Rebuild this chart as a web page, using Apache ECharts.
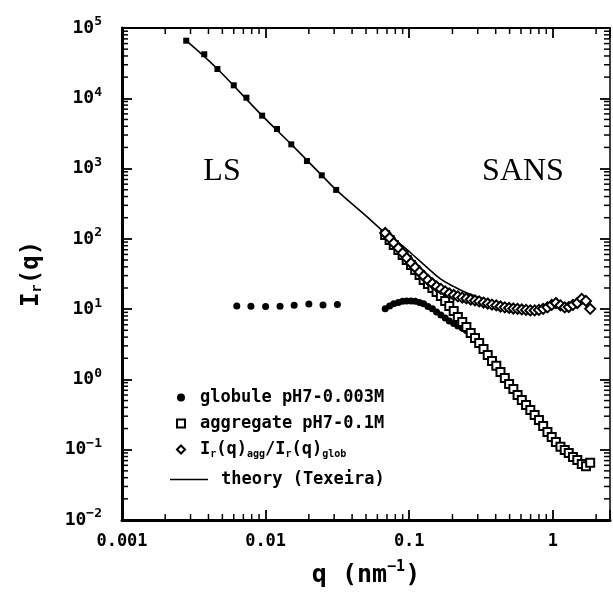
<!DOCTYPE html>
<html>
<head>
<meta charset="utf-8">
<script src="https://cdn.jsdelivr.net/npm/echarts@6/dist/echarts.min.js"></script>
<style>
  html, body { margin: 0; padding: 0; background: #fff; }
  #chart { width: 613px; height: 597px; }
</style>
</head>
<body>
<div id="chart"></div>
<script>
// axis range + tick labels
var xMin = 0.001, xMax = 2.5;
var yMin = 0.01, yMax = 100000;
var xTickExps = [-3, -2, -1, 0];
var xTickLabels = ['0.001', '0.01', '0.1', '1'];
var yTickExps = [-2, -1, 0, 1, 2, 3, 4, 5];
var yTickSup = ['\u22122', '\u22121', '0', '1', '2', '3', '4', '5'];

// light scattering, aggregate
var aggLsQ = [0.0028, 0.00374, 0.00462, 0.0060, 0.00735, 0.00946, 0.0120, 0.0151, 0.0194, 0.0246, 0.0310];
var aggLsI = [66000, 42300, 26100, 15300, 10200, 5660, 3660, 2210, 1280, 802, 497];

// light scattering, globule
var globLsQ = [0.0063, 0.0079, 0.0100, 0.0126, 0.0158, 0.0200, 0.0251, 0.0316];
var globLsI = [11.1, 11.0, 10.9, 11.0, 11.4, 11.8, 11.5, 11.6];

// SANS q grid
var sansQ = [0.068, 0.073, 0.078, 0.084, 0.090, 0.096, 0.103, 0.110, 0.118, 0.126,
  0.135, 0.145, 0.155, 0.166, 0.178, 0.190, 0.204, 0.218, 0.234, 0.250,
  0.268, 0.287, 0.307, 0.329, 0.352, 0.377, 0.404, 0.432, 0.463, 0.496,
  0.531, 0.568, 0.608, 0.651, 0.697, 0.747, 0.800, 0.856, 0.917, 0.982,
  1.05, 1.13, 1.21, 1.29, 1.38, 1.48, 1.59, 1.70, 1.82];

var aggSansI = [113.5, 96.4, 81.8, 69.5, 59.0, 50.1, 42.6, 36.1, 30.6, 26.0,
  22.8, 20.0, 17.6, 15.4, 13.1, 11.1, 9.43, 7.74, 6.57, 5.58,
  4.58, 3.89, 3.30, 2.72, 2.23, 1.83, 1.56, 1.28, 1.05, 0.863,
  0.733, 0.602, 0.511, 0.434, 0.368, 0.313, 0.265, 0.218, 0.179, 0.152,
  0.129, 0.110, 0.099, 0.090, 0.079, 0.0716, 0.0628, 0.058, 0.065];

var globSansI = [10.1, 11.1, 11.9, 12.4, 12.9, 13.1, 13.1, 12.9, 12.4, 11.9,
  10.9, 10.1, 9.12, 8.27, 7.50, 6.80, 6.26, 5.77, 5.41, 4.98,
  4.44, 3.77, 3.20, 2.63, 2.16, 1.77, 1.51, 1.24, 1.02, 0.836,
  0.709, 0.582, 0.494, 0.420, 0.356, 0.303, 0.257, 0.211, 0.173, 0.147,
  0.125, 0.110, 0.096, 0.087, 0.076, 0.069, 0.061, 0.059, 0.063];

var ratioI = [121, 103, 87.5, 74.3, 63.0, 53.5, 45.4, 39.2, 33.8, 29.6,
  26.0, 23.2, 21.0, 19.4, 17.9, 16.7, 15.9, 15.2, 14.6, 14.2,
  13.7, 13.3, 12.9, 12.4, 12.0, 11.6, 11.3, 10.9, 10.6, 10.4,
  10.2, 10.1, 9.9, 9.75, 9.6, 9.6, 9.75, 10.1, 10.6, 11.5,
  12.2, 11.3, 10.6, 10.7, 11.5, 12.2, 14.0, 13.1, 10.1];

// theory curve (Texeira)
var theoryQ = [0.0028, 0.00462, 0.00946, 0.0151, 0.0246, 0.031, 0.05, 0.068, 0.085, 0.103, 0.13, 0.165, 0.205, 0.26, 0.33, 0.45, 0.65, 1.0];
var theoryI = [66000, 26100, 5660, 2210, 802, 497, 212, 121, 87, 62.4, 41, 27, 20.9, 16.5, 14.0, 11.6, 10.2, 10.0];

var nameGlob = 'globule pH7-0.003M';
var nameAgg = 'aggregate pH7-0.1M';
var nameRatio = 'Ir(q)agg/Ir(q)glob';
var nameTheory = 'theory (Texeira)';

var mono = '"DejaVu Sans Mono", monospace';

function pairs(qs, is) {
  return qs.map(function (q, i) { return [q, is[i]]; });
}

// index of a decade tick, -1 if v is not a power of ten
function decadeIndex(v, exps) {
  var e = Math.log10(v);
  if (Math.abs(e - Math.round(e)) > 1e-6) return -1;
  return exps.indexOf(Math.round(e));
}

// minor tick values 2..9 per decade
function minorTicks(lo, hi) {
  var out = [];
  for (var e = Math.floor(Math.log10(lo)); e <= Math.ceil(Math.log10(hi)); e++) {
    for (var k = 2; k <= 9; k++) {
      var v = k * Math.pow(10, e);
      if (v > lo && v < hi) out.push(v);
    }
  }
  return out;
}

function tickSeries(id, values, dir) {
  return {
    id: id,
    name: id,
    type: 'custom',
    silent: true,
    clip: false,
    z: 6,
    encode: { x: 0, y: 1 },
    data: values.map(function (v) { return dir === 'x' ? [v, 1] : [1, v]; }),
    renderItem: function (params, api) {
      var st = { stroke: '#000', lineWidth: 1.5 };
      var ch = [];
      if (dir === 'x') {
        var v = api.value(0);
        var b = api.coord([v, yMin]), t = api.coord([v, yMax]);
        ch.push({ type: 'line', shape: { x1: b[0], y1: b[1], x2: b[0], y2: b[1] - 6 }, style: st });
        ch.push({ type: 'line', shape: { x1: t[0], y1: t[1], x2: t[0], y2: t[1] + 6 }, style: st });
      } else {
        var w = api.value(1);
        var l = api.coord([xMin, w]), r = api.coord([xMax, w]);
        ch.push({ type: 'line', shape: { x1: l[0], y1: l[1], x2: l[0] + 6, y2: l[1] }, style: st });
        ch.push({ type: 'line', shape: { x1: r[0], y1: r[1], x2: r[0] - 6, y2: r[1] }, style: st });
      }
      return { type: 'group', children: ch };
    }
  };
}

var chart = echarts.init(document.getElementById('chart'));

var axisCommon = {
  type: 'log',
  logBase: 10,
  splitLine: { show: false },
  axisLine: { lineStyle: { color: '#000', width: 3 } },
  axisTick: { inside: true, length: 10, lineStyle: { color: '#000', width: 1.8 } }
};

var option = {
  animation: false,
  backgroundColor: '#fff',
  grid: { left: 122, right: 3, top: 28, bottom: 77 },
  xAxis: [
    Object.assign({}, axisCommon, {
      min: xMin, max: xMax, position: 'bottom',
      axisLabel: {
        margin: 13, color: '#000', fontFamily: mono, fontWeight: 'bold', fontSize: 17,
        formatter: function (v) {
          var i = decadeIndex(v, xTickExps);
          return i < 0 ? '' : xTickLabels[i];
        }
      },
      name: '{t|q (nm}{sup|\u22121}{t|)}',
      nameLocation: 'middle',
      nameGap: 40,
      nameTextStyle: {
        rich: {
          t: { fontFamily: mono, fontWeight: 'bold', fontSize: 25, color: '#000' },
          sup: { fontFamily: mono, fontWeight: 'bold', fontSize: 15, color: '#000', padding: [0, 0, 16, 0] }
        }
      }
    }),
    Object.assign({}, axisCommon, {
      min: xMin, max: xMax, position: 'top',
      axisLine: { lineStyle: { color: '#000', width: 2 } },
      axisLabel: { show: false }
    })
  ],
  yAxis: [
    Object.assign({}, axisCommon, {
      min: yMin, max: yMax, position: 'left',
      axisLabel: {
        margin: 20, color: '#000',
        formatter: function (v) {
          var i = decadeIndex(v, yTickExps);
          return i < 0 ? '' : '{b|10}{sup|' + yTickSup[i] + '}';
        },
        rich: {
          b: { fontFamily: mono, fontWeight: 'bold', fontSize: 18, color: '#000' },
          sup: { fontFamily: mono, fontWeight: 'bold', fontSize: 13, color: '#000', padding: [0, 0, 12, 0] }
        }
      },
      name: '{t|I}{s|r}{t|(q)}',
      nameLocation: 'middle',
      nameRotate: 90,
      nameGap: 78,
      nameTextStyle: {
        rich: {
          t: { fontFamily: mono, fontWeight: 'bold', fontSize: 24, color: '#000' },
          s: { fontFamily: mono, fontWeight: 'bold', fontSize: 14, color: '#000', padding: [10, 0, 0, 0] }
        }
      }
    }),
    Object.assign({}, axisCommon, {
      min: yMin, max: yMax, position: 'right',
      axisLine: { lineStyle: { color: '#000', width: 1.5 } },
      axisLabel: { show: false }
    })
  ],
  legend: [
    {
      data: [nameGlob, nameAgg, nameRatio],
      orient: 'vertical',
      left: 176, top: 389,
      itemWidth: 8, itemHeight: 8, itemGap: 9,
      padding: 0,
      textStyle: {
        fontFamily: mono, fontWeight: 'bold', fontSize: 17, color: '#000', padding: [0, 0, 0, 10],
        rich: {
          t: { fontFamily: mono, fontWeight: 'bold', fontSize: 17, color: '#000' },
          s: { fontFamily: mono, fontWeight: 'bold', fontSize: 10, color: '#000', padding: [9, 0, 0, 0] }
        }
      },
      formatter: function (n) {
        if (n === nameRatio) {
          return '{t|I}{s|r}{t|(q)}{s|agg}{t|/I}{s|r}{t|(q)}{s|glob}';
        }
        return n;
      }
    },
    {
      data: [{ name: nameTheory, icon: 'rect' }],
      left: 170, top: 471,
      itemWidth: 38, itemHeight: 1.6,
      padding: 0,
      textStyle: { fontFamily: mono, fontWeight: 'bold', fontSize: 17, color: '#000', padding: [0, 0, 0, 8] }
    }
  ],
  graphic: [
    { type: 'text', x: 222, y: 172, style: { text: 'LS', fontFamily: '"Liberation Serif", serif', fontSize: 32, fill: '#000', align: 'center', verticalAlign: 'middle' } },
    { type: 'text', x: 523, y: 172, style: { text: 'SANS', fontFamily: '"Liberation Serif", serif', fontSize: 32, fill: '#000', align: 'center', verticalAlign: 'middle' } }
  ],
  series: [
    {
      name: nameTheory,
      type: 'line',
      smooth: 0.4,
      symbol: 'none',
      lineStyle: { color: '#000', width: 1.6 },
      itemStyle: { color: '#000' },
      data: pairs(theoryQ, theoryI),
      z: 3
    },
    {
      name: nameGlob,
      type: 'scatter',
      symbol: 'circle',
      symbolSize: 7,
      itemStyle: { color: '#000', opacity: 1 },
      data: pairs(globLsQ, globLsI).concat(pairs(sansQ, globSansI)),
      z: 4
    },
    {
      name: nameAgg,
      type: 'scatter',
      symbol: 'emptyRect',
      symbolSize: 8,
      itemStyle: { color: '#000', borderColor: '#000', borderWidth: 2.2, opacity: 1 },
      data: pairs(sansQ, aggSansI),
      z: 4
    },
    {
      name: nameAgg,
      type: 'scatter',
      symbol: 'rect',
      symbolSize: 6,
      itemStyle: { color: '#000', opacity: 1 },
      data: pairs(aggLsQ, aggLsI),
      z: 4
    },
    {
      name: nameRatio,
      type: 'scatter',
      symbol: 'emptyDiamond',
      symbolSize: 10,
      itemStyle: { color: '#000', borderColor: '#000', borderWidth: 2.6, opacity: 1 },
      data: pairs(sansQ, ratioI),
      z: 4
    },
    tickSeries('xminor', minorTicks(xMin, xMax), 'x'),
    tickSeries('yminor', minorTicks(yMin, yMax), 'y')
  ]
};

chart.setOption(option);
window.addEventListener('resize', function () {
  chart.resize();
});
</script>
</body>
</html>
